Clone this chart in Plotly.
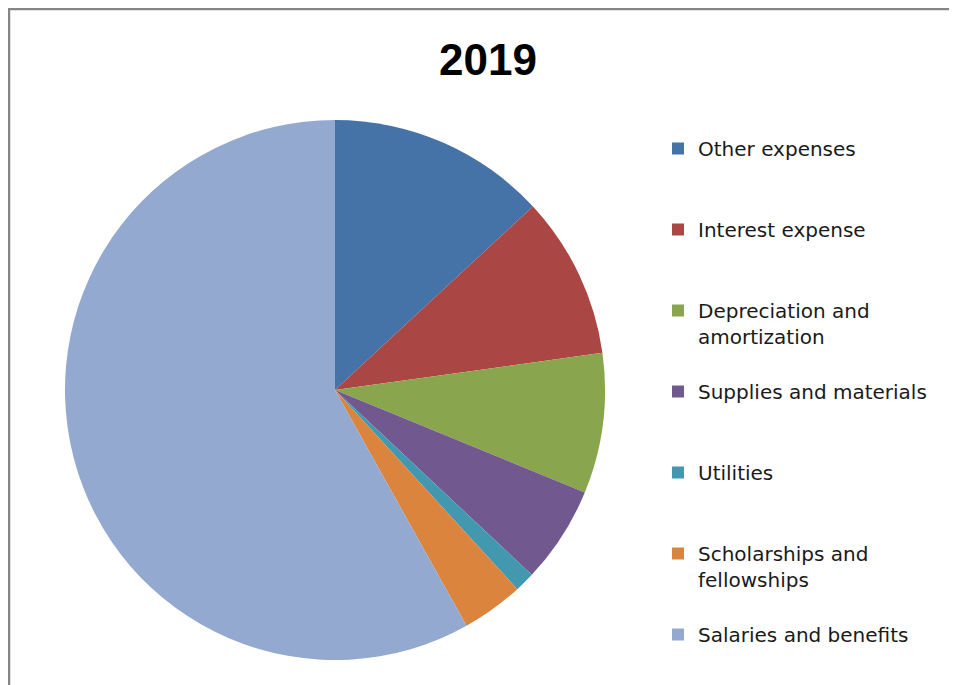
import plotly.graph_objects as go

W, H = 957, 685
# the page body adds an 8px offset, so figure coordinates are shifted by -8px

categories = ["Other expenses", "Interest expense", "Depreciation and<br>amortization",
              "Supplies and materials", "Utilities", "Scholarships and<br>fellowships",
              "Salaries and benefits"]
values = [13.1, 9.7, 8.4, 5.8, 1.2, 3.7, 58.1]
colors = ["#4572A7", "#AA4643", "#89A54E", "#71588F", "#4198AF", "#DB843D", "#93A9CF"]

# pad labels with blank lines so every legend entry has equal height (except the last)
legend_labels = []
for i, c in enumerate(categories):
    n = c.count("<br>") + 1
    pad = 0 if i == len(categories) - 1 else 3 - n
    legend_labels.append(c + "<br> " * pad)

fig = go.Figure(go.Pie(
    labels=legend_labels,
    values=values,
    sort=False,
    direction="clockwise",
    rotation=0,
    marker=dict(colors=colors, line=dict(width=0)),
    textinfo="none",
    hoverinfo="label+percent",
    domain=dict(x=[57 / W, 597 / W], y=[33 / H, 573 / H]),
))

fig.update_layout(
    width=W, height=H,
    margin=dict(l=0, r=0, t=0, b=0),
    paper_bgcolor="white",
    plot_bgcolor="white",
    title=dict(text="<b>2019</b>", x=480 / W, xanchor="center", xref="paper",
               y=1 - 52 / H, yanchor="middle", yref="container",
               font=dict(family="Liberation Sans", size=44, color="black")),
    legend=dict(x=650 / W, xanchor="left", y=1 - 121 / H, yanchor="top",
                font=dict(family="DejaVu Sans", size=20, color="#1a1a1a"),
                valign="top", itemwidth=30, bgcolor="rgba(0,0,0,0)"),
    shapes=[dict(type="rect", xref="paper", yref="paper",
                 x0=1 / W, x1=1.2, y0=-0.2, y1=1 - 1 / H,
                 line=dict(color="#868686", width=2.5), fillcolor="rgba(0,0,0,0)",
                 layer="below")],
)

fig.write_html("out.html")
